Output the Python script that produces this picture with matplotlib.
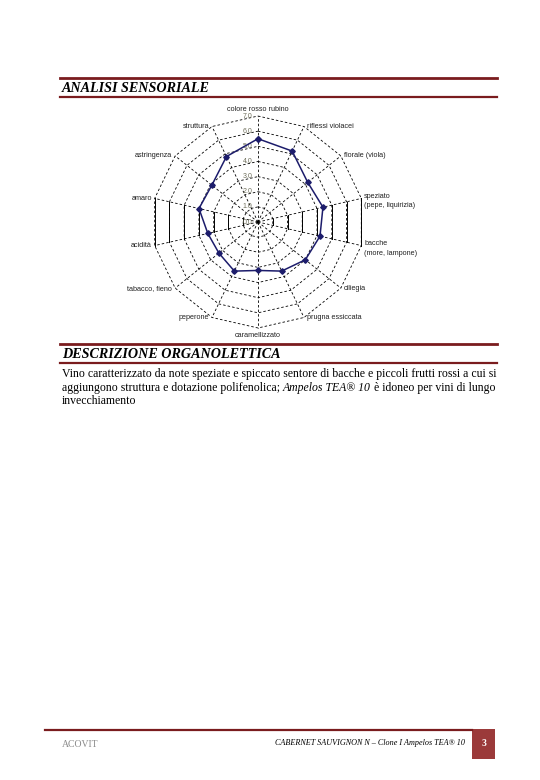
import numpy as np
import matplotlib
matplotlib.use("Agg")
import matplotlib.pyplot as plt

# dati del grafico radar
categorie = ["colore rosso rubino", "riflessi violacei", "florale (viola)",
             "speziato\n(pepe, liquirizia)", "bacche\n(more, lampone)", "ciliegia",
             "prugna essiccata", "caramellizzato", "peperone", "tabacco, fieno",
             "acidità", "amaro", "astringenza", "struttura"]
valori = [5.5, 5.2, 4.2, 4.4, 4.2, 4.0, 3.6, 3.2, 3.6, 3.3, 3.4, 4.0, 3.9, 4.8]
anelli = [1, 2, 3, 4, 5, 6, 7]
etichette_scala = ["0.0", "1.0", "2.0", "3.0", "4.0", "5.0", "6.0", "7.0"]

titolo_1 = "ANALISI SENSORIALE"
titolo_2 = "DESCRIZIONE ORGANOLETTICA"
riga_1 = "Vino caratterizzato da note speziate e spiccato sentore di bacche e piccoli frutti rossi a cui si"
riga_2a = "aggiungono struttura e dotazione polifenolica; "
riga_2b = "Ampelos TEA® 10"
riga_2c = " è idoneo per vini di lungo"
riga_3 = "invecchiamento"
piede = "CABERNET SAUVIGNON N – Clone I Ampelos TEA® 10"

MARRONE = "#7a1c1e"
SERIF = "Liberation Serif"
SANS = "Liberation Sans"

W, H = 540, 780
fig = plt.figure(figsize=(W / 100, H / 100), dpi=100)

# pagina (coordinate in pixel, origine in alto a sinistra)
pg = fig.add_axes([0, 0, 1, 1])
pg.set_xlim(0, W)
pg.set_ylim(H, 0)
pg.set_axis_off()

pg.plot([60, 497], [77.5, 77.5], color=MARRONE, lw=2.0)
pg.plot([60, 497], [96.7, 96.7], color=MARRONE, lw=1.6)
pg.text(62, 88.5, titolo_1, family=SERIF, style="italic", weight="bold",
        fontsize=10.2, va="center", ha="left")

pg.plot([60, 497], [343.5, 343.5], color=MARRONE, lw=2.0)
pg.plot([60, 497], [363, 363], color=MARRONE, lw=1.6)
pg.text(62, 354.5, titolo_2, family=SERIF, style="italic", weight="bold",
        fontsize=10.2, va="center", ha="left")

fs = 8.5
pg.text(62, 374.5, riga_1, family=SERIF, fontsize=fs, va="center", ha="left")
t2a = pg.text(62, 388, riga_2a, family=SERIF, fontsize=fs, va="center", ha="left")
t2b = pg.annotate(riga_2b, xy=(1, 0), xycoords=t2a, va="bottom", ha="left",
                  family=SERIF, style="italic", fontsize=fs)
pg.annotate(riga_2c, xy=(1, 0), xycoords=t2b, va="bottom", ha="left",
            family=SERIF, fontsize=fs)
pg.text(62, 401.5, riga_3, family=SERIF, fontsize=fs, va="center", ha="left")

# piè di pagina
pg.plot([45, 472], [729.5, 729.5], color=MARRONE, lw=1.6)
pg.add_patch(plt.Rectangle((472, 729), 23, 30, color="#9b3a3a", lw=0))
pg.text(483.5, 744, "3", color="white", weight="bold", family=SERIF,
        fontsize=7, ha="center", va="center")
pg.text(465, 743, piede, family=SERIF, style="italic", fontsize=5.85,
        ha="right", va="center")
pg.text(62, 744.5, "ACOVIT", family=SERIF, color="#8a8a8a", fontsize=7,
        ha="left", va="center")

# grafico radar (asse cartesiano, 1 unità = 15.14 px)
cx, cy, u = 258, 222, 15.14
half = 10
ax = fig.add_axes([(cx - half * u) / W, (H - cy - half * u) / H,
                   2 * half * u / W, 2 * half * u / H])
ax.set_xlim(-half, half)
ax.set_ylim(-half, half)
ax.set_axis_off()

n = len(categorie)
ang = np.arange(n) * 2 * np.pi / n
sx, sy = np.sin(ang), np.cos(ang)
rmax = anelli[-1]

for r in anelli:
    xs = np.append(r * sx, r * sx[0])
    ys = np.append(r * sy, r * sy[0])
    ax.plot(xs, ys, color="black", lw=0.6, ls=(0, (3, 2.5)))
    # i lati verticali appaiono continui nell'originale
    for i in (3, 10):
        ax.plot([r * sx[i], r * sx[i + 1]], [r * sy[i], r * sy[i + 1]],
                color="black", lw=0.7)
for i in range(n):
    ax.plot([0, rmax * sx[i]], [0, rmax * sy[i]], color="black", lw=0.6,
            ls=(0, (3, 2.5)))

v = np.array(valori)
ax.plot(np.append(v * sx, v[0] * sx[0]), np.append(v * sy, v[0] * sy[0]),
        color="#1c1c6b", lw=1.1, marker="D", markersize=2.8, zorder=5)

for k, lab in enumerate(etichette_scala):
    ax.annotate(lab, xy=(0, k), xytext=(-4, 0), textcoords="offset points",
                ha="right", va="center", fontsize=5, family=SANS, color="#6e6e5a")

for i, lab in enumerate(categorie):
    x0, y0 = rmax * sx[i], rmax * sy[i]
    if abs(sx[i]) < 0.1:
        ha = "center"
        va = "bottom" if sy[i] > 0 else "top"
        off = (0, 2) if sy[i] > 0 else (0, -3)
    else:
        ha = "left" if sx[i] > 0 else "right"
        off = (2, 0) if sx[i] > 0 else (-2, 0)
        va = "center"
    if "\n" in lab:
        va = "top"
        off = (off[0], 4)
    ax.annotate(lab, xy=(x0, y0), xytext=off, textcoords="offset points",
                ha=ha, va=va, fontsize=5.2, family=SANS, color="#222222",
                linespacing=1.5)

fig.savefig("out.png", dpi=100)
